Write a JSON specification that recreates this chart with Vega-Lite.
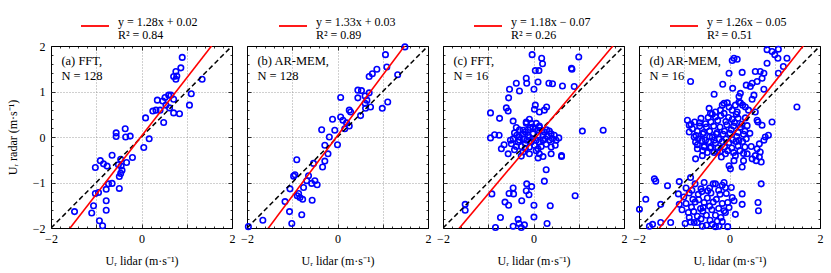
{
"$schema":"https://vega.github.io/schema/vega-lite/v6.json",
"padding":{"left":5,"top":10,"right":5,"bottom":5},
"config":{"font":"Liberation Serif","view":{"stroke":"black","strokeWidth":1},
"axis":{"labelFontSize":12,"titleFontSize":12,"titleFontWeight":"normal","labelColor":"black","titleColor":"black","tickColor":"black","tickWidth":0.8,"domain":false,"labelFlush":false,"labelOverlap":false,"labelBound":false,"gridColor":"#888888","gridDash":[1,2],"gridWidth":0.8},
"legend":{"labelFontSize":12,"labelColor":"black","symbolType":"stroke","symbolStrokeWidth":1.8,"symbolSize":784,"labelOffset":8,"title":null}},
"datasets":{
"pa":[{"x":0.90,"y":1.75},{"x":0.76,"y":1.44},{"x":0.87,"y":1.52},{"x":0.71,"y":1.33},{"x":0.76,"y":1.27},{"x":0.78,"y":1.34},{"x":1.34,"y":1.27},{"x":1.10,"y":0.95},{"x":1.06,"y":0.70},{"x":0.84,"y":0.51},{"x":0.65,"y":0.92},{"x":0.60,"y":0.92},{"x":0.52,"y":0.87},{"x":0.35,"y":0.81},{"x":0.47,"y":0.79},{"x":0.71,"y":0.83},{"x":0.25,"y":0.57},{"x":0.32,"y":0.59},{"x":0.41,"y":0.59},{"x":0.54,"y":0.70},{"x":0.71,"y":0.53},{"x":0.62,"y":0.64},{"x":0.49,"y":0.32},{"x":0.09,"y":0.42},{"x":0.17,"y":-0.04},{"x":0.05,"y":-0.23},{"x":-0.36,"y":0.18},{"x":-0.56,"y":0.09},{"x":-0.56,"y":0.01},{"x":-0.35,"y":0.00},{"x":-0.25,"y":0.02},{"x":-0.65,"y":-0.40},{"x":-0.20,"y":-0.45},{"x":-0.33,"y":-0.56},{"x":-0.45,"y":-0.64},{"x":-0.43,"y":-0.73},{"x":-0.91,"y":-0.52},{"x":-1.02,"y":-0.67},{"x":-0.76,"y":-0.64},{"x":-0.49,"y":-0.87},{"x":-0.46,"y":-0.80},{"x":-0.65,"y":-1.02},{"x":-0.73,"y":-1.03},{"x":-0.49,"y":-1.13},{"x":-0.78,"y":-1.15},{"x":-1.02,"y":-1.24},{"x":-0.95,"y":-1.22},{"x":-0.78,"y":-1.40},{"x":-0.78,"y":-1.61},{"x":-1.06,"y":-1.51},{"x":-1.10,"y":-1.67},{"x":-1.48,"y":-1.64},{"x":-0.93,"y":-1.84},{"x":-0.86,"y":-1.95},{"x":-0.46,"y":-0.49},{"x":-0.84,"y":-0.59},{"x":-0.51,"y":-0.61}],
"pb":[{"x":1.49,"y":1.98},{"x":1.06,"y":1.81},{"x":1.09,"y":1.54},{"x":1.33,"y":1.37},{"x":0.87,"y":1.49},{"x":0.77,"y":1.39},{"x":0.70,"y":1.33},{"x":0.45,"y":1.03},{"x":0.53,"y":1.02},{"x":0.70,"y":0.97},{"x":0.61,"y":0.90},{"x":0.45,"y":0.86},{"x":0.65,"y":0.81},{"x":0.61,"y":0.74},{"x":0.73,"y":0.66},{"x":0.62,"y":0.63},{"x":0.99,"y":0.63},{"x":1.11,"y":0.77},{"x":0.07,"y":0.87},{"x":0.26,"y":0.59},{"x":0.29,"y":0.55},{"x":0.51,"y":0.47},{"x":0.07,"y":0.44},{"x":-0.11,"y":0.39},{"x":0.12,"y":0.37},{"x":0.20,"y":0.31},{"x":0.26,"y":0.24},{"x":0.16,"y":0.18},{"x":-0.06,"y":0.15},{"x":-0.35,"y":0.16},{"x":-0.18,"y":0.00},{"x":0.00,"y":-0.17},{"x":-0.28,"y":-0.18},{"x":-0.21,"y":-0.37},{"x":-0.28,"y":-0.53},{"x":-0.33,"y":-0.66},{"x":-0.53,"y":-0.58},{"x":-0.90,"y":-0.50},{"x":-0.94,"y":-0.83},{"x":-0.97,"y":-0.86},{"x":-0.64,"y":-0.85},{"x":-0.50,"y":-0.96},{"x":-0.45,"y":-1.05},{"x":-0.57,"y":-1.02},{"x":-0.75,"y":-1.11},{"x":-1.05,"y":-1.14},{"x":-0.86,"y":-1.24},{"x":-0.83,"y":-1.33},{"x":-0.77,"y":-1.37},{"x":-0.56,"y":-1.39},{"x":-1.16,"y":-1.42},{"x":-1.06,"y":-1.64},{"x":-0.79,"y":-1.71},{"x":-1.65,"y":-1.83},{"x":-1.01,"y":-1.90},{"x":-1.97,"y":-1.97},{"x":-0.68,"y":-0.96},{"x":-0.89,"y":-1.29}],
"pc":[{"x":-0.03,"y":1.81},{"x":0.18,"y":1.73},{"x":0.20,"y":1.61},{"x":1.00,"y":1.76},{"x":0.84,"y":1.51},{"x":0.85,"y":1.49},{"x":0.04,"y":1.46},{"x":0.12,"y":1.46},{"x":-0.16,"y":1.29},{"x":-0.15,"y":1.18},{"x":-0.38,"y":1.18},{"x":0.10,"y":1.21},{"x":0.34,"y":1.18},{"x":0.42,"y":1.17},{"x":0.64,"y":1.12},{"x":0.90,"y":1.11},{"x":-0.53,"y":1.05},{"x":-0.31,"y":1.01},{"x":0.01,"y":1.05},{"x":-0.55,"y":0.86},{"x":-0.60,"y":0.64},{"x":-0.56,"y":0.57},{"x":-0.95,"y":0.53},{"x":-0.75,"y":0.41},{"x":0.04,"y":0.70},{"x":0.02,"y":0.61},{"x":0.29,"y":0.66},{"x":0.24,"y":0.59},{"x":0.13,"y":0.55},{"x":-0.45,"y":0.35},{"x":-0.09,"y":0.39},{"x":-0.16,"y":0.30},{"x":1.08,"y":0.13},{"x":1.54,"y":0.15},{"x":-0.86,"y":0.05},{"x":-0.76,"y":0.04},{"x":-0.95,"y":-0.02},{"x":-0.51,"y":-0.07},{"x":-0.71,"y":-0.26},{"x":-0.65,"y":-0.17},{"x":-0.56,"y":-0.37},{"x":-0.42,"y":-0.28},{"x":-0.27,"y":-0.42},{"x":0.10,"y":-0.46},{"x":0.21,"y":-0.43},{"x":0.39,"y":-0.37},{"x":0.48,"y":-0.18},{"x":0.56,"y":-0.02},{"x":0.62,"y":-0.41},{"x":0.62,"y":-0.43},{"x":0.28,"y":-0.72},{"x":0.24,"y":-0.97},{"x":-0.15,"y":-1.03},{"x":-0.04,"y":-1.09},{"x":-0.45,"y":-1.12},{"x":-0.92,"y":-1.25},{"x":-0.54,"y":-1.24},{"x":-0.44,"y":-1.25},{"x":-0.16,"y":-1.18},{"x":-0.10,"y":-1.27},{"x":-0.26,"y":-1.40},{"x":-0.63,"y":-1.43},{"x":-0.55,"y":-1.50},{"x":0.01,"y":-1.50},{"x":0.37,"y":-1.51},{"x":0.92,"y":-1.29},{"x":-1.51,"y":-1.48},{"x":-1.51,"y":-1.61},{"x":-0.73,"y":-1.77},{"x":-0.34,"y":-1.81},{"x":0.01,"y":-1.76},{"x":-0.45,"y":-1.96},{"x":-0.32,"y":-1.90},{"x":-0.20,"y":-1.93},{"x":0.30,"y":-1.90},{"x":-0.84,"y":-1.99},{"x":-0.27,"y":-1.99},
{"x":-0.38,"y":0.21},{"x":-0.31,"y":0.16},{"x":-0.23,"y":0.15},{"x":-0.18,"y":0.11},{"x":-0.12,"y":0.16},{"x":-0.07,"y":0.21},{"x":-0.01,"y":0.22},{"x":0.04,"y":0.18},{"x":0.10,"y":0.15},{"x":0.13,"y":0.21},{"x":0.19,"y":0.15},{"x":0.24,"y":0.11},{"x":0.29,"y":0.16},{"x":0.35,"y":0.13},{"x":0.39,"y":0.07},{"x":0.31,"y":0.01},{"x":0.26,"y":-0.04},{"x":0.21,"y":-0.07},{"x":0.13,"y":-0.11},{"x":0.06,"y":-0.07},{"x":-0.01,"y":-0.04},{"x":-0.09,"y":-0.01},{"x":-0.15,"y":-0.07},{"x":-0.22,"y":-0.04},{"x":-0.31,"y":0.00},{"x":-0.37,"y":0.04},{"x":-0.42,"y":0.09},{"x":-0.45,"y":-0.04},{"x":-0.34,"y":-0.11},{"x":-0.27,"y":-0.21},{"x":-0.18,"y":-0.26},{"x":-0.09,"y":-0.22},{"x":0.02,"y":-0.18},{"x":0.10,"y":-0.26},{"x":0.17,"y":-0.21},{"x":0.28,"y":-0.16},{"x":0.35,"y":-0.07},{"x":0.42,"y":-0.04},{"x":0.46,"y":0.04},{"x":0.21,"y":0.04},{"x":0.10,"y":0.04},{"x":-0.01,"y":0.07},{"x":-0.12,"y":0.04},{"x":-0.23,"y":0.06},{"x":-0.31,"y":-0.07},{"x":-0.18,"y":-0.15},{"x":-0.05,"y":-0.11},{"x":0.06,"y":-0.30},{"x":0.13,"y":-0.37},{"x":-0.09,"y":-0.37},{"x":-0.23,"y":-0.33},{"x":-0.38,"y":-0.21},{"x":-0.49,"y":-0.15},{"x":0.50,"y":-0.07},{"x":0.39,"y":-0.22},{"x":-0.16,"y":0.33},{"x":0.06,"y":0.30},{"x":0.13,"y":0.24},{"x":-0.05,"y":0.30}],
"pd":[{"x":0.83,"y":1.92},{"x":0.94,"y":1.88},{"x":1.08,"y":1.93},{"x":1.00,"y":1.81},{"x":1.07,"y":1.73},{"x":1.27,"y":1.73},{"x":1.19,"y":1.55},{"x":0.83,"y":1.62},{"x":1.08,"y":1.40},{"x":0.76,"y":1.40},{"x":0.68,"y":1.44},{"x":0.57,"y":1.44},{"x":0.72,"y":1.29},{"x":0.61,"y":1.22},{"x":0.50,"y":1.18},{"x":0.46,"y":1.11},{"x":0.37,"y":1.14},{"x":0.76,"y":1.05},{"x":0.54,"y":0.92},{"x":0.50,"y":0.83},{"x":0.24,"y":0.96},{"x":0.21,"y":0.89},{"x":0.06,"y":1.68},{"x":0.10,"y":1.73},{"x":0.17,"y":1.71},{"x":0.28,"y":1.42},{"x":-0.01,"y":1.40},{"x":-0.15,"y":1.16},{"x":-0.34,"y":0.94},{"x":-0.86,"y":1.22},{"x":1.49,"y":0.66},{"x":0.07,"y":1.07},{"x":0.24,"y":0.75},{"x":0.29,"y":0.70},{"x":0.35,"y":0.66},{"x":0.42,"y":0.59},{"x":0.57,"y":0.55},{"x":0.61,"y":0.37},{"x":0.63,"y":0.33},{"x":0.72,"y":0.26},{"x":0.94,"y":0.33},{"x":0.86,"y":0.04},{"x":0.79,"y":0.00},{"x":0.76,"y":-0.07},{"x":0.66,"y":-0.15},{"x":0.61,"y":-0.26},{"x":0.68,"y":-0.33},{"x":0.57,"y":-0.41},{"x":0.50,"y":-0.48},{"x":0.59,"y":-0.52},{"x":0.66,"y":-0.44},{"x":0.70,"y":-0.55},{"x":0.39,"y":-0.37},{"x":0.48,"y":-0.21},{"x":0.28,"y":-0.66},{"x":0.31,"y":-0.52},{"x":0.13,"y":-0.41},{"x":0.10,"y":-0.52},{"x":-0.01,"y":-0.63},{"x":0.02,"y":-0.70},{"x":-0.09,"y":-0.37},{"x":-0.18,"y":-0.44},{"x":-0.27,"y":-0.33},{"x":-0.34,"y":-0.07},{"x":-0.38,"y":0.00},{"x":-0.93,"y":0.37},{"x":-0.89,"y":0.26},{"x":-0.89,"y":0.11},{"x":-0.78,"y":0.00},{"x":-0.75,"y":-0.11},{"x":-0.71,"y":-0.26},{"x":-0.60,"y":-0.41},{"x":-0.75,"y":-0.48},{"x":-0.56,"y":-0.22},{"x":-0.45,"y":0.63},{"x":-0.42,"y":0.52},{"x":-0.31,"y":0.55},{"x":-0.20,"y":0.59},{"x":-0.12,"y":0.74},{"x":-0.05,"y":0.75},{"x":-0.16,"y":0.70},{"x":-0.01,"y":0.66},{"x":0.06,"y":0.59},{"x":0.13,"y":0.70},{"x":0.17,"y":0.55},{"x":0.21,"y":0.77},
{"x":-0.77,"y":0.33},{"x":-0.66,"y":0.31},{"x":-0.63,"y":0.41},{"x":-0.53,"y":0.29},{"x":-0.47,"y":0.43},{"x":-0.41,"y":0.33},{"x":-0.31,"y":0.44},{"x":-0.26,"y":0.36},{"x":-0.19,"y":0.47},{"x":-0.08,"y":0.34},{"x":-0.02,"y":0.43},{"x":0.06,"y":0.39},{"x":0.11,"y":0.32},{"x":0.19,"y":0.41},{"x":0.27,"y":0.28},{"x":-0.82,"y":0.18},{"x":-0.71,"y":0.13},{"x":-0.66,"y":0.24},{"x":-0.57,"y":0.10},{"x":-0.51,"y":0.22},{"x":-0.44,"y":0.13},{"x":-0.35,"y":0.24},{"x":-0.27,"y":0.10},{"x":-0.21,"y":0.22},{"x":-0.11,"y":0.13},{"x":-0.06,"y":0.27},{"x":0.04,"y":0.16},{"x":0.09,"y":0.24},{"x":0.19,"y":0.10},{"x":0.24,"y":0.22},{"x":0.34,"y":0.13},{"x":0.39,"y":0.25},{"x":-0.74,"y":0.03},{"x":-0.69,"y":-0.04},{"x":-0.59,"y":0.07},{"x":-0.53,"y":-0.07},{"x":-0.44,"y":0.00},{"x":-0.29,"y":0.07},{"x":-0.23,"y":-0.05},{"x":-0.14,"y":0.06},{"x":-0.08,"y":-0.04},{"x":0.01,"y":0.08},{"x":0.07,"y":-0.06},{"x":0.16,"y":0.01},{"x":0.21,"y":-0.07},{"x":0.31,"y":0.06},{"x":0.37,"y":-0.04},{"x":0.45,"y":0.08},{"x":-0.71,"y":-0.17},{"x":-0.61,"y":-0.08},{"x":-0.56,"y":-0.20},{"x":-0.46,"y":-0.10},{"x":-0.41,"y":-0.22},{"x":-0.31,"y":-0.13},{"x":-0.26,"y":-0.24},{"x":-0.16,"y":-0.10},{"x":-0.11,"y":-0.22},{"x":-0.01,"y":-0.12},{"x":0.05,"y":-0.24},{"x":0.14,"y":-0.10},{"x":0.19,"y":-0.20},{"x":0.29,"y":-0.10},{"x":0.34,"y":-0.22},{"x":-0.59,"y":-0.30},{"x":-0.49,"y":-0.34},{"x":-0.43,"y":-0.24},{"x":-0.34,"y":-0.34},{"x":-0.21,"y":-0.32},{"x":-0.04,"y":-0.30},{"x":0.09,"y":-0.34},{"x":0.23,"y":-0.30},{"x":0.31,"y":-0.36},{"x":-0.85,"y":0.28},{"x":-0.38,"y":0.50},{"x":-0.12,"y":0.52},{"x":0.15,"y":0.50},{"x":0.35,"y":0.42},
{"x":-1.66,"y":-0.92},{"x":-1.63,"y":-0.97},{"x":-1.37,"y":-1.07},{"x":-1.11,"y":-0.98},{"x":-0.86,"y":-0.89},{"x":-1.85,"y":-1.37},{"x":-1.52,"y":-1.48},{"x":-1.99,"y":-1.59},{"x":-1.70,"y":-1.92},{"x":-1.77,"y":-1.96},{"x":-1.52,"y":-1.88},{"x":-1.30,"y":-1.88},{"x":-1.13,"y":-1.25},{"x":-1.11,"y":-1.48},{"x":0.28,"y":-1.25},{"x":0.28,"y":-1.48},{"x":0.63,"y":-1.44},{"x":0.64,"y":-1.62},{"x":0.70,"y":-1.03},{"x":-0.12,"y":-1.00},{"x":-0.09,"y":-1.11},{"x":-0.31,"y":-1.03},{"x":0.04,"y":-1.11},{"x":0.06,"y":-1.33},{"x":0.10,"y":-1.40},{"x":-0.01,"y":-1.55},{"x":-0.12,"y":-1.62},{"x":-0.27,"y":-1.85},{"x":-0.23,"y":-1.96},{"x":-0.38,"y":-1.92},{"x":-0.60,"y":-1.96},{"x":-0.78,"y":-1.88},{"x":-0.89,"y":-1.77},{"x":0.13,"y":-1.70},
{"x":-0.96,"y":-1.12},{"x":-0.83,"y":-1.17},{"x":-0.76,"y":-1.03},{"x":-0.63,"y":-1.14},{"x":-0.56,"y":-1.00},{"x":-0.44,"y":-1.12},{"x":-0.36,"y":-1.03},{"x":-0.24,"y":-1.17},{"x":-0.16,"y":-1.06},{"x":-1.01,"y":-1.32},{"x":-0.89,"y":-1.23},{"x":-0.81,"y":-1.37},{"x":-0.69,"y":-1.26},{"x":-0.61,"y":-1.20},{"x":-0.49,"y":-1.34},{"x":-0.41,"y":-1.23},{"x":-0.29,"y":-1.37},{"x":-0.21,"y":-1.26},{"x":-0.07,"y":-1.24},{"x":-0.96,"y":-1.46},{"x":-0.84,"y":-1.54},{"x":-0.76,"y":-1.43},{"x":-0.64,"y":-1.57},{"x":-0.56,"y":-1.44},{"x":-0.44,"y":-1.52},{"x":-0.36,"y":-1.43},{"x":-0.24,"y":-1.57},{"x":-0.16,"y":-1.46},{"x":-0.04,"y":-1.44},{"x":-0.91,"y":-1.66},{"x":-0.79,"y":-1.64},{"x":-0.71,"y":-1.74},{"x":-0.59,"y":-1.63},{"x":-0.51,"y":-1.72},{"x":-0.39,"y":-1.60},{"x":-0.31,"y":-1.72},{"x":-0.19,"y":-1.77},{"x":-0.09,"y":-1.66},{"x":-0.86,"y":-1.87},{"x":-0.71,"y":-1.88},{"x":-0.63,"y":-1.80},{"x":-0.51,"y":-1.94},{"x":-0.43,"y":-1.83},{"x":-0.31,"y":-1.97},{"x":-0.16,"y":-1.86},{"x":-0.04,"y":-1.97},{"x":-1.05,"y":-1.60},{"x":-0.98,"y":-1.90},{"x":-0.58,"y":-1.55},{"x":-0.68,"y":-1.38},{"x":-0.48,"y":-1.18}]
},
"hconcat":[
{"width":181,"height":182,"layer":[
{"data":{"name":"pa"},"mark":{"type":"point","shape":"circle","filled":false,"color":"#0000ff","strokeWidth":1.6,"size":30,"opacity":1},
"encoding":{"x":{"field":"x","type":"quantitative","scale":{"domain":[-2,2],"nice":false,"zero":false},"axis":{"orient":"bottom","values":[-2,-1.8,-1.6,-1.4,-1.2,-1,-0.8,-0.6,-0.4,-0.2,0,0.2,0.4,0.6,0.8,1,1.2,1.4,1.6,1.8,2],"tickSize":{"condition":{"test":"abs(datum.value-round(datum.value))<0.001","value":-4},"value":-2},"labelExpr":"abs(datum.value-round(datum.value))<0.001 && round(datum.value)%2==0 ? format(datum.value,'d') : ''","labelPadding":9,"title":"Uᵣ lidar (m·s⁻¹)","titlePadding":9,"grid":true,"gridOpacity":{"condition":{"test":"abs(datum.value-round(datum.value))<0.001 && abs(datum.value)<1.5","value":1},"value":0}}},
"y":{"field":"y","type":"quantitative","scale":{"domain":[-2,2],"nice":false,"zero":false},"axis":{"orient":"left","values":[-2,-1.8,-1.6,-1.4,-1.2,-1,-0.8,-0.6,-0.4,-0.2,0,0.2,0.4,0.6,0.8,1,1.2,1.4,1.6,1.8,2],"tickSize":{"condition":{"test":"abs(datum.value-round(datum.value))<0.001","value":-4},"value":-2},"labelExpr":"abs(datum.value-round(datum.value))<0.001 ? format(datum.value,'d') : ''","labelPadding":10,"title":"Uᵣ radar (m·s⁻¹)","titlePadding":13,"grid":true,"gridOpacity":{"condition":{"test":"abs(datum.value-round(datum.value))<0.001 && abs(datum.value)<1.5","value":1},"value":0}}}}},
{"data":{"values":[{"x":-2,"y":-2},{"x":2,"y":2}]},"mark":{"type":"line","color":"black","strokeDash":[5,3],"strokeWidth":1.5,"clip":true},
"encoding":{"x":{"field":"x","type":"quantitative","axis":{"orient":"top","values":[-2,-1.8,-1.6,-1.4,-1.2,-1,-0.8,-0.6,-0.4,-0.2,0,0.2,0.4,0.6,0.8,1,1.2,1.4,1.6,1.8,2],"tickSize":{"condition":{"test":"abs(datum.value-round(datum.value))<0.001","value":-4},"value":-2},"labels":false,"title":null,"grid":false}},
"y":{"field":"y","type":"quantitative","axis":{"orient":"right","values":[-2,-1.8,-1.6,-1.4,-1.2,-1,-0.8,-0.6,-0.4,-0.2,0,0.2,0.4,0.6,0.8,1,1.2,1.4,1.6,1.8,2],"tickSize":{"condition":{"test":"abs(datum.value-round(datum.value))<0.001","value":-4},"value":-2},"labels":false,"title":null,"grid":false}}}},
{"data":{"values":[{"x":-2,"y":-2.54,"s":"y = 1.28x + 0.02|R² = 0.84"},{"x":2,"y":2.58,"s":"y = 1.28x + 0.02|R² = 0.84"}]},"mark":{"type":"line","strokeWidth":1.6,"clip":true},
"encoding":{"x":{"field":"x","type":"quantitative","axis":null},"y":{"field":"y","type":"quantitative","axis":null},"color":{"field":"s","type":"nominal","scale":{"range":["#ff0000"]},"legend":{"orient":"none","legendX":29,"legendY":-35,"labelExpr":"split(datum.label,'|')","encode":{"labels":{"update":{"dy":{"value":-4},"lineHeight":{"value":12.5}}}}}}}},
{"data":{"values":[{"x":-1.77,"y":1.8,"t":"(a) FFT,|N = 128"}]},"mark":{"type":"text","align":"left","baseline":"top","lineBreak":"|","fontSize":12.5,"lineHeight":15},
"encoding":{"x":{"field":"x","type":"quantitative","axis":null},"y":{"field":"y","type":"quantitative","axis":null},"text":{"field":"t"}}}
],"resolve":{"axis":{"x":"independent","y":"independent"}}},
{"width":181,"height":182,"layer":[
{"data":{"name":"pb"},"mark":{"type":"point","shape":"circle","filled":false,"color":"#0000ff","strokeWidth":1.6,"size":30,"opacity":1},
"encoding":{"x":{"field":"x","type":"quantitative","scale":{"domain":[-2,2],"nice":false,"zero":false},"axis":{"orient":"bottom","values":[-2,-1.8,-1.6,-1.4,-1.2,-1,-0.8,-0.6,-0.4,-0.2,0,0.2,0.4,0.6,0.8,1,1.2,1.4,1.6,1.8,2],"tickSize":{"condition":{"test":"abs(datum.value-round(datum.value))<0.001","value":-4},"value":-2},"labelExpr":"abs(datum.value-round(datum.value))<0.001 && round(datum.value)%2==0 ? format(datum.value,'d') : ''","labelPadding":9,"title":"Uᵣ lidar (m·s⁻¹)","titlePadding":9,"grid":true,"gridOpacity":{"condition":{"test":"abs(datum.value-round(datum.value))<0.001 && abs(datum.value)<1.5","value":1},"value":0}}},
"y":{"field":"y","type":"quantitative","scale":{"domain":[-2,2],"nice":false,"zero":false},"axis":{"orient":"left","values":[-2,-1.8,-1.6,-1.4,-1.2,-1,-0.8,-0.6,-0.4,-0.2,0,0.2,0.4,0.6,0.8,1,1.2,1.4,1.6,1.8,2],"tickSize":{"condition":{"test":"abs(datum.value-round(datum.value))<0.001","value":-4},"value":-2},"labels":false,"title":null,"grid":true,"gridOpacity":{"condition":{"test":"abs(datum.value-round(datum.value))<0.001 && abs(datum.value)<1.5","value":1},"value":0}}}}},
{"data":{"values":[{"x":-2,"y":-2},{"x":2,"y":2}]},"mark":{"type":"line","color":"black","strokeDash":[5,3],"strokeWidth":1.5,"clip":true},
"encoding":{"x":{"field":"x","type":"quantitative","axis":{"orient":"top","values":[-2,-1.8,-1.6,-1.4,-1.2,-1,-0.8,-0.6,-0.4,-0.2,0,0.2,0.4,0.6,0.8,1,1.2,1.4,1.6,1.8,2],"tickSize":{"condition":{"test":"abs(datum.value-round(datum.value))<0.001","value":-4},"value":-2},"labels":false,"title":null,"grid":false}},
"y":{"field":"y","type":"quantitative","axis":{"orient":"right","values":[-2,-1.8,-1.6,-1.4,-1.2,-1,-0.8,-0.6,-0.4,-0.2,0,0.2,0.4,0.6,0.8,1,1.2,1.4,1.6,1.8,2],"tickSize":{"condition":{"test":"abs(datum.value-round(datum.value))<0.001","value":-4},"value":-2},"labels":false,"title":null,"grid":false}}}},
{"data":{"values":[{"x":-2,"y":-2.63,"s":"y = 1.33x + 0.03|R² = 0.89"},{"x":2,"y":2.69,"s":"y = 1.33x + 0.03|R² = 0.89"}]},"mark":{"type":"line","strokeWidth":1.6,"clip":true},
"encoding":{"x":{"field":"x","type":"quantitative","axis":null},"y":{"field":"y","type":"quantitative","axis":null},"color":{"field":"s","type":"nominal","scale":{"range":["#ff0000"]},"legend":{"orient":"none","legendX":31,"legendY":-35,"labelExpr":"split(datum.label,'|')","encode":{"labels":{"update":{"dy":{"value":-4},"lineHeight":{"value":12.5}}}}}}}},
{"data":{"values":[{"x":-1.77,"y":1.8,"t":"(b) AR-MEM,|N = 128"}]},"mark":{"type":"text","align":"left","baseline":"top","lineBreak":"|","fontSize":12.5,"lineHeight":15},
"encoding":{"x":{"field":"x","type":"quantitative","axis":null},"y":{"field":"y","type":"quantitative","axis":null},"text":{"field":"t"}}}
],"resolve":{"axis":{"x":"independent","y":"independent"}}},
{"width":181,"height":182,"layer":[
{"data":{"name":"pc"},"mark":{"type":"point","shape":"circle","filled":false,"color":"#0000ff","strokeWidth":1.6,"size":30,"opacity":1},
"encoding":{"x":{"field":"x","type":"quantitative","scale":{"domain":[-2,2],"nice":false,"zero":false},"axis":{"orient":"bottom","values":[-2,-1.8,-1.6,-1.4,-1.2,-1,-0.8,-0.6,-0.4,-0.2,0,0.2,0.4,0.6,0.8,1,1.2,1.4,1.6,1.8,2],"tickSize":{"condition":{"test":"abs(datum.value-round(datum.value))<0.001","value":-4},"value":-2},"labelExpr":"abs(datum.value-round(datum.value))<0.001 && round(datum.value)%2==0 ? format(datum.value,'d') : ''","labelPadding":9,"title":"Uᵣ lidar (m·s⁻¹)","titlePadding":9,"grid":true,"gridOpacity":{"condition":{"test":"abs(datum.value-round(datum.value))<0.001 && abs(datum.value)<1.5","value":1},"value":0}}},
"y":{"field":"y","type":"quantitative","scale":{"domain":[-2,2],"nice":false,"zero":false},"axis":{"orient":"left","values":[-2,-1.8,-1.6,-1.4,-1.2,-1,-0.8,-0.6,-0.4,-0.2,0,0.2,0.4,0.6,0.8,1,1.2,1.4,1.6,1.8,2],"tickSize":{"condition":{"test":"abs(datum.value-round(datum.value))<0.001","value":-4},"value":-2},"labels":false,"title":null,"grid":true,"gridOpacity":{"condition":{"test":"abs(datum.value-round(datum.value))<0.001 && abs(datum.value)<1.5","value":1},"value":0}}}}},
{"data":{"values":[{"x":-2,"y":-2},{"x":2,"y":2}]},"mark":{"type":"line","color":"black","strokeDash":[5,3],"strokeWidth":1.5,"clip":true},
"encoding":{"x":{"field":"x","type":"quantitative","axis":{"orient":"top","values":[-2,-1.8,-1.6,-1.4,-1.2,-1,-0.8,-0.6,-0.4,-0.2,0,0.2,0.4,0.6,0.8,1,1.2,1.4,1.6,1.8,2],"tickSize":{"condition":{"test":"abs(datum.value-round(datum.value))<0.001","value":-4},"value":-2},"labels":false,"title":null,"grid":false}},
"y":{"field":"y","type":"quantitative","axis":{"orient":"right","values":[-2,-1.8,-1.6,-1.4,-1.2,-1,-0.8,-0.6,-0.4,-0.2,0,0.2,0.4,0.6,0.8,1,1.2,1.4,1.6,1.8,2],"tickSize":{"condition":{"test":"abs(datum.value-round(datum.value))<0.001","value":-4},"value":-2},"labels":false,"title":null,"grid":false}}}},
{"data":{"values":[{"x":-2,"y":-2.43,"s":"y = 1.18x − 0.07|R² = 0.26"},{"x":2,"y":2.29,"s":"y = 1.18x − 0.07|R² = 0.26"}]},"mark":{"type":"line","strokeWidth":1.6,"clip":true},
"encoding":{"x":{"field":"x","type":"quantitative","axis":null},"y":{"field":"y","type":"quantitative","axis":null},"color":{"field":"s","type":"nominal","scale":{"range":["#ff0000"]},"legend":{"orient":"none","legendX":30,"legendY":-35,"labelExpr":"split(datum.label,'|')","encode":{"labels":{"update":{"dy":{"value":-4},"lineHeight":{"value":12.5}}}}}}}},
{"data":{"values":[{"x":-1.77,"y":1.8,"t":"(c) FFT,|N = 16"}]},"mark":{"type":"text","align":"left","baseline":"top","lineBreak":"|","fontSize":12.5,"lineHeight":15},
"encoding":{"x":{"field":"x","type":"quantitative","axis":null},"y":{"field":"y","type":"quantitative","axis":null},"text":{"field":"t"}}}
],"resolve":{"axis":{"x":"independent","y":"independent"}}},
{"width":181,"height":182,"layer":[
{"data":{"name":"pd"},"mark":{"type":"point","shape":"circle","filled":false,"color":"#0000ff","strokeWidth":1.6,"size":30,"opacity":1},
"encoding":{"x":{"field":"x","type":"quantitative","scale":{"domain":[-2,2],"nice":false,"zero":false},"axis":{"orient":"bottom","values":[-2,-1.8,-1.6,-1.4,-1.2,-1,-0.8,-0.6,-0.4,-0.2,0,0.2,0.4,0.6,0.8,1,1.2,1.4,1.6,1.8,2],"tickSize":{"condition":{"test":"abs(datum.value-round(datum.value))<0.001","value":-4},"value":-2},"labelExpr":"abs(datum.value-round(datum.value))<0.001 && round(datum.value)%2==0 ? format(datum.value,'d') : ''","labelPadding":9,"title":"Uᵣ lidar (m·s⁻¹)","titlePadding":9,"grid":true,"gridOpacity":{"condition":{"test":"abs(datum.value-round(datum.value))<0.001 && abs(datum.value)<1.5","value":1},"value":0}}},
"y":{"field":"y","type":"quantitative","scale":{"domain":[-2,2],"nice":false,"zero":false},"axis":{"orient":"left","values":[-2,-1.8,-1.6,-1.4,-1.2,-1,-0.8,-0.6,-0.4,-0.2,0,0.2,0.4,0.6,0.8,1,1.2,1.4,1.6,1.8,2],"tickSize":{"condition":{"test":"abs(datum.value-round(datum.value))<0.001","value":-4},"value":-2},"labels":false,"title":null,"grid":true,"gridOpacity":{"condition":{"test":"abs(datum.value-round(datum.value))<0.001 && abs(datum.value)<1.5","value":1},"value":0}}}}},
{"data":{"values":[{"x":-2,"y":-2},{"x":2,"y":2}]},"mark":{"type":"line","color":"black","strokeDash":[5,3],"strokeWidth":1.5,"clip":true},
"encoding":{"x":{"field":"x","type":"quantitative","axis":{"orient":"top","values":[-2,-1.8,-1.6,-1.4,-1.2,-1,-0.8,-0.6,-0.4,-0.2,0,0.2,0.4,0.6,0.8,1,1.2,1.4,1.6,1.8,2],"tickSize":{"condition":{"test":"abs(datum.value-round(datum.value))<0.001","value":-4},"value":-2},"labels":false,"title":null,"grid":false}},
"y":{"field":"y","type":"quantitative","axis":{"orient":"right","values":[-2,-1.8,-1.6,-1.4,-1.2,-1,-0.8,-0.6,-0.4,-0.2,0,0.2,0.4,0.6,0.8,1,1.2,1.4,1.6,1.8,2],"tickSize":{"condition":{"test":"abs(datum.value-round(datum.value))<0.001","value":-4},"value":-2},"labels":false,"title":null,"grid":false}}}},
{"data":{"values":[{"x":-2,"y":-2.57,"s":"y = 1.26x − 0.05|R² = 0.51"},{"x":2,"y":2.47,"s":"y = 1.26x − 0.05|R² = 0.51"}]},"mark":{"type":"line","strokeWidth":1.6,"clip":true},
"encoding":{"x":{"field":"x","type":"quantitative","axis":null},"y":{"field":"y","type":"quantitative","axis":null},"color":{"field":"s","type":"nominal","scale":{"range":["#ff0000"]},"legend":{"orient":"none","legendX":30,"legendY":-35,"labelExpr":"split(datum.label,'|')","encode":{"labels":{"update":{"dy":{"value":-4},"lineHeight":{"value":12.5}}}}}}}},
{"data":{"values":[{"x":-1.77,"y":1.8,"t":"(d) AR-MEM,|N = 16"}]},"mark":{"type":"text","align":"left","baseline":"top","lineBreak":"|","fontSize":12.5,"lineHeight":15},
"encoding":{"x":{"field":"x","type":"quantitative","axis":null},"y":{"field":"y","type":"quantitative","axis":null},"text":{"field":"t"}}}
],"resolve":{"axis":{"x":"independent","y":"independent"}}}
],
"spacing":4,
"resolve":{"scale":{"color":"independent"},"legend":{"color":"independent"}}
}
